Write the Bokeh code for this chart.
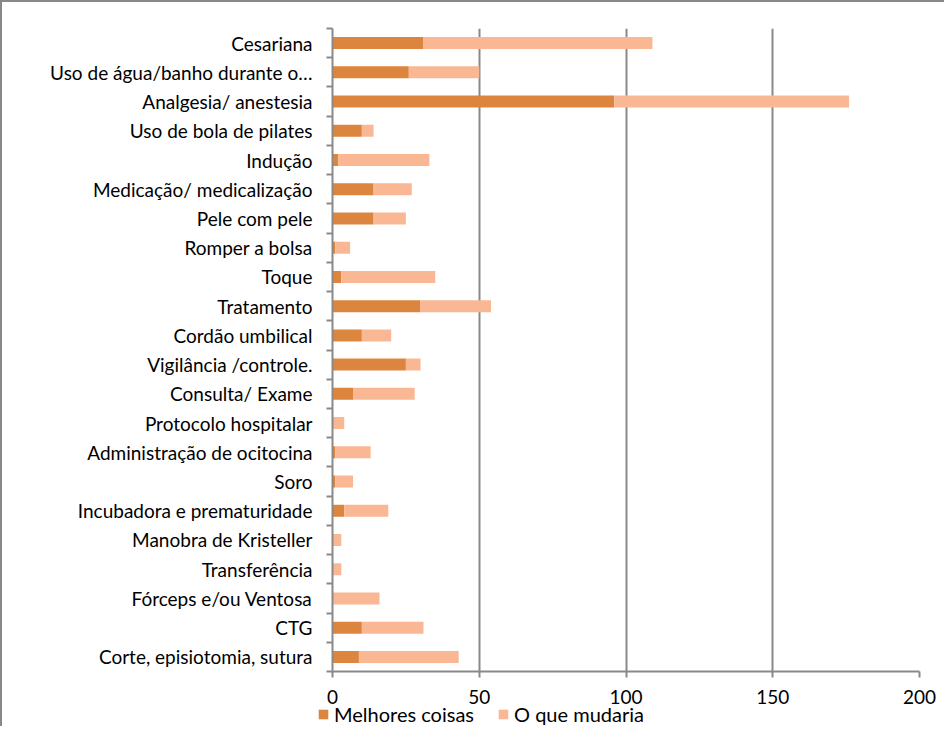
from bokeh.plotting import figure
from bokeh.layouts import column, row
from bokeh.models import (Range1d, FixedTicker, Legend, LegendItem,
                          ColumnDataSource, InlineStyleSheet)
from bokeh.embed import file_html
from bokeh.resources import INLINE

categories = [
    "Cesariana", "Uso de água/banho durante o…", "Analgesia/ anestesia",
    "Uso de bola de pilates", "Indução", "Medicação/ medicalização",
    "Pele com pele", "Romper a bolsa", "Toque", "Tratamento",
    "Cordão umbilical", "Vigilância /controle.", "Consulta/ Exame",
    "Protocolo hospitalar", "Administração de ocitocina", "Soro",
    "Incubadora e prematuridade", "Manobra de Kristeller", "Transferência",
    "Fórceps e/ou Ventosa", "CTG", "Corte, episiotomia, sutura",
]
melhores = [31, 26, 96, 10, 2, 14, 14, 1, 3, 30, 10, 25, 7, 0, 1, 1, 4, 0, 0, 0, 10, 9]
mudaria = [78, 24, 80, 4, 31, 13, 11, 5, 32, 24, 10, 5, 21, 4, 12, 6, 15, 3, 3, 16, 21, 34]
series_names = ["Melhores coisas", "O que mudaria"]
x_ticks = [0, 50, 100, 150, 200]

DARK = "#DC853F"
LIGHT = "#F9B893"
GRAY = "#898989"
FONT = "Lato"
FS = "19px"

n = len(categories)
centers = [2 * (n - 1 - i) + 1 for i in range(n)]
boundaries = list(range(0, 2 * n + 1, 2))

src = ColumnDataSource(dict(y=centers, melhores=melhores, mudaria=mudaria))

p = figure(width=942, height=711, output_backend="svg", toolbar_location=None,
           x_range=Range1d(0, 200), y_range=Range1d(0, 2 * n),
           min_border_left=330, min_border_right=25,
           min_border_top=26, min_border_bottom=42)
p.outline_line_color = None
p.background_fill_color = "white"
p.border_fill_color = "white"

rs = p.hbar_stack(["melhores", "mudaria"], y="y", height=0.82, source=src,
                  color=[DARK, LIGHT], line_width=0)

# x axis
xa = p.xaxis[0]
xa.ticker = FixedTicker(ticks=x_ticks, minor_ticks=[])
xa.axis_line_color = GRAY
xa.axis_line_width = 2
xa.major_tick_line_color = GRAY
xa.major_tick_line_width = 2
xa.major_tick_out = 6
xa.major_tick_in = 0
xa.major_label_standoff = 12
xa.major_label_text_font = FONT
xa.major_label_text_font_size = FS
xa.major_label_text_color = "black"

# y axis
ya = p.yaxis[0]
ya.ticker = FixedTicker(ticks=centers, minor_ticks=boundaries)
ya.major_label_overrides = {c: name for c, name in zip(centers, categories)}
ya.axis_line_color = GRAY
ya.axis_line_width = 2
ya.major_tick_line_color = None
ya.major_tick_out = 0
ya.major_tick_in = 0
ya.minor_tick_line_color = GRAY
ya.minor_tick_line_width = 2
ya.minor_tick_out = 6
ya.minor_tick_in = 0
ya.major_label_standoff = 14
ya.major_label_text_font = FONT
ya.major_label_text_font_size = FS
ya.major_label_text_color = "black"

p.ygrid.visible = False
p.xgrid.grid_line_color = GRAY
p.xgrid.grid_line_width = 2

# legend strip below the chart (its bars are hidden; only the legend shows)
q = figure(width=942, height=24, output_backend="svg", toolbar_location=None,
           x_range=Range1d(0, 200), y_range=Range1d(-20, -19), min_border=0)
q.axis.visible = False
q.grid.visible = False
q.outline_line_color = None
q.background_fill_alpha = 0
q.border_fill_alpha = 0
qr = q.hbar_stack(["melhores", "mudaria"], y="y", height=0.82, source=src,
                  color=[DARK, LIGHT], line_width=0)
for r in qr:
    r.visible = False

legend = Legend(items=[LegendItem(label=series_names[0], renderers=[qr[0]]),
                       LegendItem(label=series_names[1], renderers=[qr[1]])],
                orientation="horizontal", location=(315, 0),
                glyph_width=12, glyph_height=12, label_standoff=5, spacing=23,
                padding=0, margin=0, border_line_color=None,
                background_fill_alpha=0,
                label_text_font=FONT, label_text_font_size="20px",
                label_text_color="black")
q.add_layout(legend, "center")

qrow = row(q, stylesheets=[InlineStyleSheet(css=":host { margin-top: -11px; }")])

layout = column(p, qrow, spacing=0,
                stylesheets=[InlineStyleSheet(css=":host { border-top: 2px solid #888888; border-left: 2px solid #888888; }")])

open("out.html", "w").write(file_html(layout, INLINE))
